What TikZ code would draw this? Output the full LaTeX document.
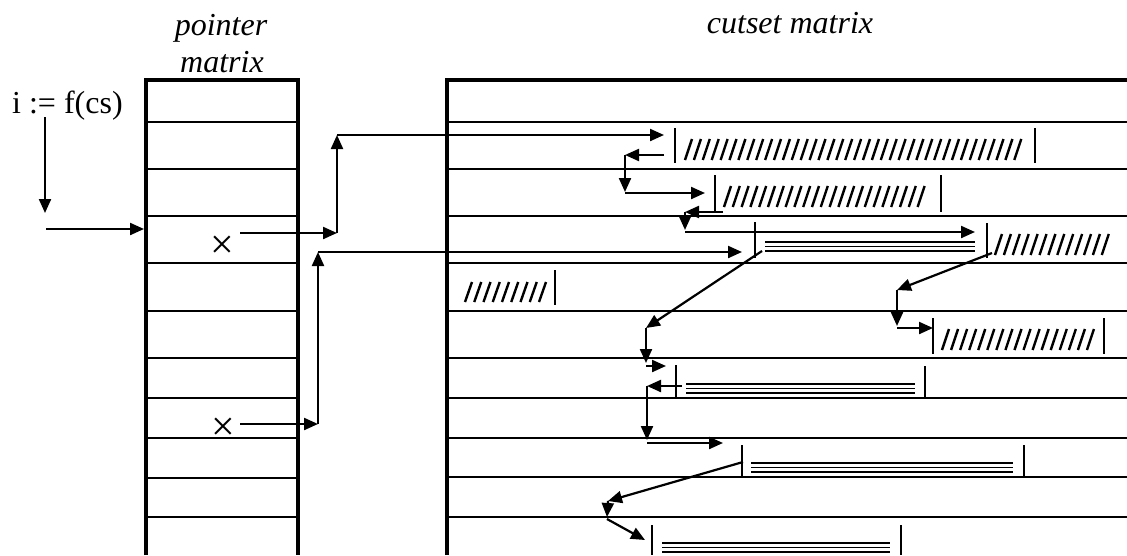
\documentclass[tikz,border=0pt]{standalone}
\usepackage{fontspec}
\setmainfont{Liberation Serif}
\usetikzlibrary{arrows.meta}
\begin{document}
\begin{tikzpicture}[x=1pt,y=-1pt,
  frame/.style={line width=3.4pt},
  rowline/.style={line width=2pt},
  conn/.style={line width=2.2pt,-{Triangle[length=14pt,width=12pt]}},
  barline/.style={line width=1.8pt},
  slashline/.style={line width=2.4pt},
  eqline/.style={line width=1.1pt},
  title/.style={font=\fontsize{32}{37}\selectfont\itshape, inner sep=0pt},
  plain/.style={font=\fontsize{32}{37}\selectfont, inner sep=0pt},
  cross/.style={font=\fontsize{42}{42}\selectfont, inner sep=0pt}]
\useasboundingbox (0,0) rectangle (1127,555);

% ---------- titles ----------
\node[title,anchor=base] (ptop) at (221,35) {pointer};
\node[title,anchor=base] (pbot) at (222,72) {matrix};
\node[title,anchor=base] (ctitle) at (790,33) {cutset matrix};
\node[plain,anchor=base west] (ifn) at (12,113) {i := f(cs)};

% ---------- pointer matrix ----------
\draw[frame] (146,555) -- (146,80) -- (298,80) -- (298,555);
\foreach \y in {122,169,216,263,311,358,398,438,478,517}
  \draw[rowline] (146,\y) -- (298,\y);
\node[cross] (x1) at (222,247) {×};
\node[cross] (x2) at (223,429) {×};

% ---------- cutset matrix ----------
\draw[frame] (447,555) -- (447,80) -- (1127,80);
\foreach \y in {122,169,216,263,311,358,398,438,477,517}
  \draw[rowline] (447,\y) -- (1127,\y);

% bars
\foreach \x/\a/\b in {675/128/163, 1035/128/163, 715/175/212, 941/175/212,
                      755/222/258, 987/223/258, 555/270/305, 933/318/354,
                      1104/318/354, 676/365/397, 925/366/397, 742/445/477,
                      1024/445/477, 652/525/555, 901/525/555}
  \draw[barline] (\x,\a) -- (\x,\b);

% slashes
\foreach \x in {685,693.9,...,1016} \draw[slashline] (\x,160) -- (\x+7,139);
\foreach \x in {724,732.8,...,925} \draw[slashline] (\x,207) -- (\x+7,186);
\foreach \x in {995,1003.9,...,1106} \draw[slashline] (\x,255) -- (\x+7,234);
\foreach \x in {465,474.25,...,540} \draw[slashline] (\x,302) -- (\x+7,282);
\foreach \x in {942,951.06,...,1088} \draw[slashline] (\x,350) -- (\x+7,329);

% triple lines
\foreach \a/\b/\y in {765/975/242, 686/915/384, 751/1013/463, 662/890/543}
  \foreach \d in {0,4.5,9} \draw[eqline] (\a,\y+\d) -- (\b,\y+\d);

% ---------- coordinates ----------
\coordinate (f0) at (45,117);  \coordinate (f1) at (45,213);
\coordinate (f2) at (46,229);  \coordinate (pin) at (144,229);

\coordinate (p1s) at (240,233); \coordinate (p1c) at (337,233);
\coordinate (p1u) at (337,135); \coordinate (r2in) at (664,135);
\coordinate (p2s) at (240,424); \coordinate (p2c) at (318,424);
\coordinate (p2u) at (318,252); \coordinate (r4in) at (742,252);

\coordinate (a1) at (664,155); \coordinate (a2) at (625,155);
\coordinate (a3) at (625,192); \coordinate (a4) at (625,193);
\coordinate (a5) at (705,193);

\coordinate (b1) at (723,212); \coordinate (b2) at (685,212);
\coordinate (b3) at (685,230); \coordinate (b4) at (685,232);
\coordinate (b5) at (975,232);

\coordinate (c1) at (762,251); \coordinate (c2) at (646,328);
\coordinate (c3) at (646,363); \coordinate (c4) at (646,366);
\coordinate (c5) at (666,366);

\coordinate (d1) at (992,253); \coordinate (d2) at (897,290);
\coordinate (d3) at (897,326); \coordinate (d4) at (897,328);
\coordinate (d5) at (933,328);

\coordinate (e1) at (682,386); \coordinate (e2) at (647,386);
\coordinate (e3) at (647,440); \coordinate (e4) at (647,443);
\coordinate (e5) at (723,443);

\coordinate (g1) at (743,462); \coordinate (g2) at (608,501);
\coordinate (g3) at (607,517); \coordinate (g4) at (607,519);
\coordinate (g5) at (645,540);

% ---------- connectors ----------
\draw[conn] (f0) -- (f1);
\draw[conn] (f2) -- (pin);

\draw[conn] (p1s) -- (p1c);
\draw[conn] (p1c) -- (p1u);
\draw[conn] (p1u) -- (r2in);
\draw[conn] (p2s) -- (p2c);
\draw[conn] (p2c) -- (p2u);
\draw[conn] (p2u) -- (r4in);

\draw[conn] (a1) -- (a2);
\draw[conn] (a2) -- (a3);
\draw[conn] (a4) -- (a5);

\draw[conn] (b1) -- (b2);
\draw[conn] (b2) -- (b3);
\draw[conn] (b4) -- (b5);

\draw[conn] (c1) -- (c2);
\draw[conn] (c2) -- (c3);
\draw[conn] (c4) -- (c5);

\draw[conn] (d1) -- (d2);
\draw[conn] (d2) -- (d3);
\draw[conn] (d4) -- (d5);

\draw[conn] (e1) -- (e2);
\draw[conn] (e2) -- (e3);
\draw[conn] (e4) -- (e5);

\draw[conn] (g1) -- (g2);
\draw[conn] (g2) -- (g3);
\draw[conn] (g4) -- (g5);
\end{tikzpicture}
\end{document}
